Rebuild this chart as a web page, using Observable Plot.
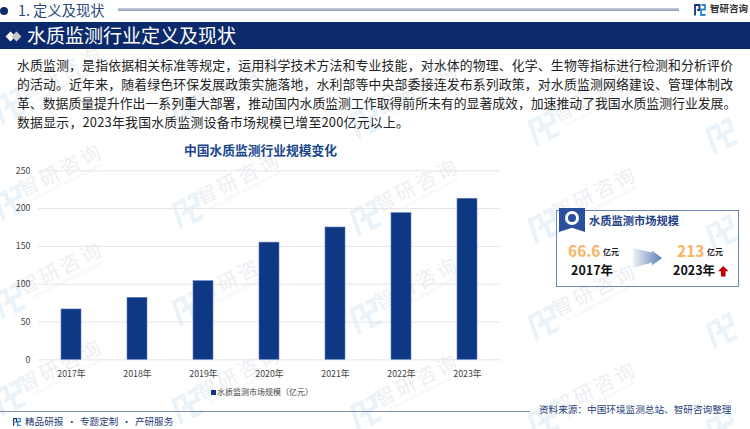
<!DOCTYPE html>
<html><head><meta charset="utf-8">
<script src="https://cdn.jsdelivr.net/npm/d3@7"></script>
<script src="https://cdn.jsdelivr.net/npm/@observablehq/plot@0.6"></script>
<style>
html,body{margin:0;padding:0;background:#fff}
#page{position:relative;width:750px;height:429px;overflow:hidden;font-family:"Noto Sans CJK SC","Noto Sans",sans-serif}
#page>*{position:absolute}
.t{white-space:nowrap;line-height:1}
#chart{left:0;top:0}
.para{left:17px;width:716px;font-size:12.85px;color:#222;text-align:justify;text-align-last:justify;white-space:nowrap;line-height:1}
.wm{color:#eceff3;font-size:20px;letter-spacing:3px;transform:rotate(-27deg);transform-origin:center;white-space:nowrap;line-height:1;text-align:center;width:120px}
.wm small{display:block;font-size:4.5px;letter-spacing:.3px;color:#eef0f4;margin-top:2px}
</style></head><body>
<div id="page"></div>
<script>
const years = ["2017年","2018年","2019年","2020年","2021年","2022年","2023年"];
const marketSize = [66.6,82,104,155,175,194,213];
const yTicks = [0,50,100,150,200,250];
const paragraph = [
"水质监测，是指依据相关标准等规定，运用科学技术方法和专业技能，对水体的物理、化学、生物等指标进行检测和分析评价",
"的活动。近年来，随着绿色环保发展政策实施落地，水利部等中央部委接连发布系列政策，对水质监测网络建设、管理体制改",
"革、数据质量提升作出一系列重大部署，推动国内水质监测工作取得前所未有的显著成效，加速推动了我国水质监测行业发展。"
];
const lastLine = "数据显示，2023年我国水质监测设备市场规模已增至200亿元以上。";
const page = document.getElementById("page");
function add(cls, css, html){const d=document.createElement("div");d.className=cls;d.style.cssText=css;d.innerHTML=html||"";page.appendChild(d);return d;}
function logo(c1,c2,w){return `<svg width="${w}" height="${w}" viewBox="0 0 24 24" style="display:block" fill="none" stroke-width="3.6"><path d="M2 23V2H11V12H6.5" stroke="${c1}"/><path d="M15 2H22V11H14V22H23" stroke="${c2}"/></svg>`;}

// watermark lattice
for (let c=-1;c<5;c++) for (let r=-1;r<5;r++){
  const cx=62+c*178, cy=173+c*7.5+r*97.5;
  add("",`left:${cx-66}px;top:${cy+16}px;transform:rotate(-27deg) skewX(-8deg)`,logo("#e9f3f9","#e9f3f9",28));
  if (cx>40 && cx<710 && cy>70 && cy<400)
    add("wm",`left:${cx-60}px;top:${cy-14}px`,"智研咨询<small>INTELLIGENCE RESEARCH GROUP</small>");
}

const plot = Plot.plot({
  width:750,height:429,marginLeft:38,marginRight:249,marginTop:170.3,marginBottom:69.7,
  style:{background:"transparent",fontFamily:'"Noto Sans CJK SC","Noto Sans",sans-serif',fontSize:"8.8px",color:"#444"},
  x:{domain:years,label:null,tickSize:0,paddingInner:0.69,paddingOuter:0.345,tickPadding:11},
  y:{domain:[0,250],ticks:yTicks,label:null,tickSize:0,tickPadding:8},
  marks:[
    Plot.gridY(yTicks,{stroke:"#e3e5ea",strokeOpacity:1}),
    Plot.barY(years.map((y,i)=>({y,v:marketSize[i]})),{x:"y",y:"v",fill:"#0f3884",stroke:"#5f7fb8",strokeWidth:.6})
  ]
});
plot.id="chart";plot.style.position="absolute";page.appendChild(plot);

// header
add("","left:0;top:6.5px;width:8px;height:8px;border-radius:50%;background:#0c2a6b");
add("t","left:18px;top:2.5px;font-size:14.3px;color:#2a4a80","1. 定义及现状");
add("","left:118px;top:8px;width:561px;height:3px;background:linear-gradient(#c9d0e0,#8f9dbc)");
add("","left:0;top:22px;width:750px;height:27px;background:#0b2a6b");
add("","left:6.5px;top:32.5px;width:7px;height:7px;background:#fff;transform:rotate(45deg)");
add("","left:12.5px;top:32.5px;width:7px;height:7px;background:#c9c9c9;transform:rotate(45deg)");
add("t","left:27px;top:25px;font-size:19px;color:#fff","水质监测行业定义及现状");
add("","left:694px;top:4px",logo("#17317a","#2a8ad8",12));
add("t","left:710px;top:4px;font-size:9.5px;font-weight:700;color:#333","智研咨询");

// body text
[59,78,97].forEach((y,i)=>add("para",`top:${y}px`+(i==2?";width:719px":""),paragraph[i]));
add("para",`top:116px;text-align-last:left;width:auto;letter-spacing:.25px`,lastLine);

// chart title and legend
add("t","left:184px;top:144px;font-size:12.75px;font-weight:700;color:#1a4690","中国水质监测行业规模变化");
add("","left:211px;top:390px;width:4.5px;height:4.5px;background:#0f3884");
add("t","left:217px;top:388px;font-size:8px;color:#444","水质监测市场规模（亿元）");

// card
add("","left:556px;top:210px;width:181px;height:75px;border:1px solid #6d85b8;box-sizing:content-box");
add("","left:559px;top:208px;width:26px;height:24px;background:#2a4f9c;clip-path:polygon(0 0,100% 0,100% 100%,50% 82%,0 100%)");
add("","left:565px;top:211px;width:14px;height:14px;border:3px solid #fff;border-radius:50%;box-sizing:border-box");
add("t","left:589px;top:215px;font-size:11.25px;font-weight:700;color:#1f4188","水质监测市场规模");
add("t","left:568px;top:243px;font-size:15.5px;font-weight:700;color:#f7b566","66.6");
add("t","left:603px;top:248px;font-size:8px;font-weight:700;color:#222","亿元");
add("t","left:571px;top:264px;font-size:12.5px;font-weight:700;color:#111","2017年");
add("","left:633px;top:248px;width:29px;height:20px;background:linear-gradient(90deg,#eef2f8,#5c7fb4);clip-path:polygon(0 0,65% 22%,65% 12%,100% 50%,65% 88%,65% 72%,0 100%)");
add("t","left:677px;top:243px;font-size:15.5px;font-weight:700;color:#f7b566","213");
add("t","left:707px;top:248px;font-size:8px;font-weight:700;color:#222","亿元");
add("t","left:673px;top:264px;font-size:12.5px;font-weight:700;color:#111","2023年");
add("","left:718px;top:266px;width:10.5px;height:10.5px;background:#c00000;clip-path:polygon(50% 0,100% 50%,72% 50%,72% 100%,28% 100%,28% 50%,0 50%)");

// footer
add("","left:0;top:411px;width:530px;height:1.2px;background:#7d8db3");
add("","left:13px;top:418px",logo("#17317a","#2a8ad8",8));
add("t","left:25px;top:417px;font-size:9.6px;color:#1f3d7a",'精品研报<span style="margin:0 3.5px">·</span>专题定制<span style="margin:0 3.5px">·</span>产研服务');
add("t","left:539px;top:405px;font-size:9.65px;color:#1f3d7a","资料来源：中国环境监测总站、智研咨询整理");
</script>
</body></html>
